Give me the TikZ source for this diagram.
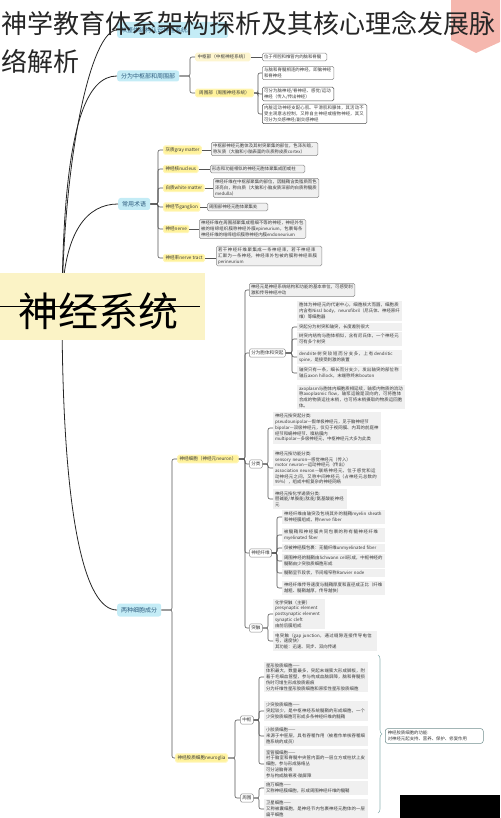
\documentclass[tikz,border=0pt]{standalone}
\usepackage{fontspec}
\setmainfont{Noto Sans CJK SC}
\XeTeXlinebreaklocale "zh"
\XeTeXlinebreakskip=0pt plus 1pt
\usetikzlibrary{calc,decorations.pathreplacing}
\definecolor{blueF}{HTML}{C4ECF6}
\definecolor{blueT}{HTML}{2E5C7E}
\definecolor{yelF}{HTML}{FFF29B}
\definecolor{yelP}{HTML}{FDF5CF}
\definecolor{boxF}{HTML}{F0F0F0}
\definecolor{boxD}{HTML}{8C8C8C}
\definecolor{lineC}{HTML}{555555}
\definecolor{txt}{HTML}{3A3A3A}
\definecolor{bannerF}{HTML}{FBF3C6}
\definecolor{pinkF}{HTML}{F5B7AE}
\definecolor{braceC}{HTML}{8FB3B3}
\tikzset{
 bluenode/.style={fill=blueF, text=blueT, rounded corners=2.5pt, font=\fontsize{6}{7}\selectfont, inner xsep=4pt, inner ysep=2.5pt, anchor=west},
 yelnode/.style={fill=yelF, draw=yelF!70, line width=1pt, text=txt, rounded corners=1.5pt, font=\fontsize{4.6}{5.5}\selectfont, inner xsep=2pt, inner ysep=1.6pt, anchor=west},
 gbase/.style={fill=boxF, text=txt, font=\fontsize{4.4}{5.7}\selectfont, inner sep=1.8pt, align=left, anchor=west},
 gbox/.style={gbase, draw=boxD, line width=0.5pt, rounded corners=1.5pt, text width=#1},
 gfill/.style={gbase, text width=#1},
 tagnode/.style={draw=boxD, line width=0.5pt, fill=white, rounded corners=1.5pt, text=txt, font=\fontsize{4.6}{5.5}\selectfont, inner xsep=2pt, inner ysep=2pt, anchor=west},
 conn/.style={draw=lineC, line width=0.6pt, rounded corners=2pt},
 rootc/.style={draw=black!85, line width=0.8pt},
}
\begin{document}
\begin{tikzpicture}[x=1pt,y=-1pt]
\useasboundingbox (0,0) rectangle (500,818);
% pink banner top right
\fill[pinkF] (451,0) -- (500,0) -- (500,42) -- (476,53) -- (451,40) -- cycle;

% ---- top branches
\node[bluenode, text width=103pt, align=left, minimum height=16pt] (t1) at (117,30) {从整体结构认识神经系统。};
\node[bluenode, minimum height=11pt] (t2) at (117,76) {分为中枢部和周围部};
\node[yelnode, fill=yelP, draw=yelP] (c1) at (195,57) {中枢部（中枢神经系统）};
\node[yelnode, minimum width=58pt] (c2) at (195,93) {周围部（周围神经系统）};
\node[gbox=61pt, fill=white] (b1) at (262,57) {位于颅腔和椎管内的脑和脊髓};
\node[gbox=68pt, fill=white] (b2) at (262,73) {与脑和脊髓相连的神经，即脑神经和脊神经};
\node[gbox=68pt, draw=black!70, fill=white] (b3) at (262,94) {可分为脑神经/脊神经、感觉/运动神经（传入/传出神经）};
\node[gbox=101pt, draw=black!70, fill=white] (b4) at (262,114) {内脏运动神经支配心肌、平滑肌和腺体，其活动不受主观意志控制，又称自主神经或植物神经，其又可分为交感神经/副交感神经};
\draw[conn] (t2.east) -| ([xshift=-5pt]c1.west) -- (c1.west);
\draw[conn] (t2.east) -| ([xshift=-5pt]c2.west) -- (c2.west);
\draw[conn] (c1.east) -- (b1.west);
\foreach \b in {b2,b3,b4} \draw[conn] (c2.east) -| ([xshift=-4pt]\b.west) -- (\b.west);

% ---- common terms
\node[bluenode, minimum height=12pt] (term) at (118,204) {常用术语};
\node[yelnode] (y1) at (163,150) {灰质gray matter};
\node[yelnode] (y2) at (163,169) {神经核nucleus};
\node[yelnode] (y3) at (163,188) {白质white matter};
\node[yelnode] (y4) at (163,207) {神经节ganglion};
\node[yelnode] (y5) at (163,229) {神经nerve};
\node[yelnode] (y6) at (163,258) {神经束nerve tract};
\node[gbox=103pt] (g1) at (211,149) {中枢部神经元胞体及其树突聚集的部位，色泽灰暗，称灰质（大脑和小脑表面的灰质称皮质cortex）};
\node[gbox=91pt] (g2) at (210,169) {形态和功能相似的神经元胞体聚集成团或柱};
\node[gbox=102pt] (g3) at (213,188) {神经纤维在中枢部聚集的部位，因髓鞘含类脂质而色泽亮白，称白质（大脑和小脑皮质深部的白质称髓质medulla）};
\node[gbox=57pt] (g4) at (207,207) {周围部神经元胞体聚集处};
\node[gbox=103pt] (g5) at (199,229) {神经纤维在周围部聚集成粗细不等的神经，神经外包被的结缔组织膜称神经外膜epineurium，包裹每条神经纤维的结缔组织膜称神经内膜endoneurium};
\node[gbox=102pt] (g6) at (216,256) {若干神经纤维聚集成一条神经束，若干神经束汇聚为一条神经，神经束外包被的膜称神经束膜perineurium};
\foreach \y in {y1,y2,y3,y4,y5,y6} \draw[conn] (term.east) -| ([xshift=-5pt]\y.west) -- (\y.west);
\foreach \y/\g in {y1/g1,y2/g2,y3/g3,y4/g4,y5/g5,y6/g6} \draw[conn] (\y.east) -- (\y.east -| \g.west);

% ---- two cell types
\node[bluenode, minimum height=13pt] (two) at (117,610) {两种细胞成分};
\node[yelnode] (n1) at (177,459) {神经细胞（神经元neuron）};
\node[yelnode] (n2) at (175,758) {神经胶质细胞neuroglia};
\draw[conn] (two.east) -| ([xshift=-5pt]n1.west) -- (n1.west);
\draw[conn] (two.east) -| ([xshift=-3pt]n2.west) -- (n2.west);

% neuron children
\node[gbox=102pt] (k1) at (249,290) {神经元是神经系统结构和功能的基本单位，可感受刺激和传导神经冲动};
\node[tagnode] (k2) at (249,353) {分为胞体和突起};
\node[tagnode] (k3) at (249,464) {分类};
\node[tagnode] (k4) at (249,553) {神经纤维};
\node[tagnode] (k5) at (249,628) {突触};
\foreach \k in {k1,k2,k3,k4,k5} \draw[conn] (n1.east) -| ([xshift=-4pt]\k.west) -- (\k.west);

% cell body and processes
\node[gfill=101pt] (pa) at (297,311) {胞体为神经元的代谢中心，细胞核大而圆，细胞质内含有Nissl body，neurofibril（尼氏体、神经原纤维）等细胞器};
\node[gfill=101pt] (pb1) at (297,327) {突起分为树突和轴突，长度差别很大};
\node[gfill=101pt] (pb2) at (297,339) {树突内结构与胞体相似，含有尼氏体，一个神经元可有多个树突};
\node[gfill=101pt] (pc1) at (297,357) {dendrite树突较短而分支多，上有dendritic spine，是接受刺激的装置};
\node[gfill=101pt] (pc2) at (297,373) {轴突只有一条，细长而分支少，发出轴突的部位称轴丘axon hillock，末端称终末bouton};
\node[gfill=104pt] (pd) at (297,397) {axoplasm与胞体内细胞质相延续，轴浆内物质的流动称axoplasmic flow，轴浆运输是双向的，可将胞体合成的物质运往末梢，也可将末梢摄取的物质运回胞体。};
\foreach \p in {pb1,pb2,pc1,pc2} \draw[conn] (k2.east) -| ([xshift=-5pt]\p.west) -- (\p.west);

% classification
\node[gfill=104pt] (ce) at (273,428) {神经元按突起分类:\\pseudounipolar—假单极神经元，见于脑神经节\\bipolar—双极神经元，仅见于视网膜、内耳的前庭神经节和蜗神经节、嗅粘膜内\\multipolar—多极神经元，中枢神经元大多为此类};
\node[gfill=104pt] (cf) at (273,468) {神经元按功能分类:\\sensory neuron—感觉神经元（传入）\\motor neuron—运动神经元（传出）\\association neuron—联络神经元，位于感觉和运动神经元之间，又称中间神经元（占神经元总数的99\%），组成中枢复杂的神经网络};
\node[gfill=70pt] (cg) at (273,499) {神经元按化学递质分类:\\胆碱能/单胺能/肽能/氨基酸能神经元};
\foreach \c in {ce,cf,cg} \draw[conn] (k3.east) -| ([xshift=-5pt]\c.west) -- (\c.west);

% nerve fibers
\node[gfill=99pt] (fh) at (282,517) {神经纤维由轴突及包绕其外的髓鞘myelin sheath和神经膜组成，称nerve fiber};
\node[gfill=99pt] (fi1) at (282,535) {被髓鞘和神经膜共同包裹的称有髓神经纤维myelinated fiber};
\node[gfill=99pt] (fi2) at (282,548) {仅被神经膜包裹：无髓纤维unmyelinated fiber};
\node[gfill=99pt] (fj) at (282,561) {周围神经的髓鞘由Schwann cell形成，中枢神经的髓鞘由少突胶质细胞形成};
\node[gfill=99pt] (fk) at (282,573) {髓鞘呈节段状，节间缩窄称Ranvier node};
\node[gfill=99pt] (fl) at (282,588) {神经纤维传导速度与髓鞘厚度和直径成正比（纤维越粗、髓鞘越厚，传导越快）};
\foreach \f in {fh,fi1,fi2,fj,fk,fl} \draw[conn] (k4.east) -| ([xshift=-5pt]\f.west) -- (\f.west);

% synapse
\node[gfill=48pt] (sm) at (273,614) {化学突触（主要）\\presynaptic element\\postsynaptic element\\synaptic cleft\\由前后膜组成};
\node[gfill=100pt] (sn) at (273,641) {电突触（gap junction，通过缝隙连接传导电信号，速度快）\\其功能：迅速、同步、双向传递};
\foreach \s in {sm,sn} \draw[conn] (k5.east) -| ([xshift=-5pt]\s.west) -- (\s.west);

% neuroglia
\node[tagnode] (q1) at (240,720) {中枢};
\node[tagnode] (q2) at (240,798) {周围};
\foreach \q in {q1,q2} \draw[conn] (n2.east) -| ([xshift=-5pt]\q.west) -- (\q.west);
\node[gfill=100pt] (go) at (264,677) {星形胶质细胞——\\体积最大，数量最多，突起末端膨大形成脚板，附着于毛细血管壁，参与构成血脑屏障，脑和脊髓损伤时可增生形成胶质瘢痕\\分为纤维性星形胶质细胞和原浆性星形胶质细胞};
\node[gfill=100pt] (gp) at (264,711) {少突胶质细胞——\\突起较少，是中枢神经系统髓鞘的形成细胞，一个少突胶质细胞可形成多条神经纤维的髓鞘};
\node[gfill=100pt] (gq) at (264,736) {小胶质细胞——\\来源于中胚层，具有吞噬作用（被看作单核吞噬细胞系统的成员）};
\node[gfill=100pt] (gr) at (264,764) {室管膜细胞——\\衬于脑室和脊髓中央管内面的一层立方或柱状上皮细胞，参与形成脉络丛\\可分泌脑脊液\\参与构成脑脊液-脑屏障};
\foreach \g in {go,gp,gq,gr} \draw[conn] (q1.east) -| ([xshift=-5pt]\g.west) -- (\g.west);
\node[gfill=100pt] (gs) at (264,788) {施万细胞——\\又称神经膜细胞，形成周围神经纤维的髓鞘};
\node[gfill=100pt] (gt) at (264,809) {卫星细胞——\\又称被囊细胞，是神经节内包裹神经元胞体的一层扁平细胞};
\foreach \g in {gs,gt} \draw[conn] (q2.east) -| ([xshift=-5pt]\g.west) -- (\g.west);
\draw[braceC, line width=0.6pt, decorate, decoration={brace, amplitude=4pt}] (378,655) -- (378,813);
\node[gbox=93pt, draw=braceC!80!black, fill=white, rounded corners=2.5pt, inner sep=2.5pt] (gz) at (385,736) {神经胶质细胞的功能:\\对神经元起支持、营养、保护、修复作用};

% ---- root curves
\coordinate (root) at (62,306);
\draw[rootc] (root) .. controls (64,150) and (92,30) .. (t1.west);
\draw[rootc] (root) .. controls (63,120) and (88,76) .. (t2.west);
\draw[rootc] (root) .. controls (63,230) and (88,204) .. (term.west);
\draw[rootc] (root) .. controls (62,520) and (85,610) .. (two.west);

% ---- banner
\fill[bannerF] (0,273) rectangle (205,340);
\node[font=\fontsize{40}{40}\selectfont, text=black, inner sep=0] (sys) at (98,311) {神经系统};
\draw[black, line width=0.8pt] (0,306) -- (200,306);

% ---- title
\node[anchor=west, font=\fontsize{26}{30}\selectfont, text=black!85, inner sep=0] (title1) at (1,23) {神学教育体系架构探析及其核心理念发展脉};
\node[anchor=west, font=\fontsize{26}{30}\selectfont, text=black!85, inner sep=0] (title2) at (1,61) {络解析};

% ---- black strip
\fill[black] (400,795) rectangle (500,818);
\end{tikzpicture}
\end{document}
